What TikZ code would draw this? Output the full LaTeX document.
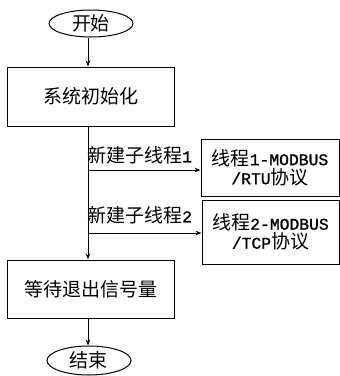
\documentclass[tikz,border=0pt]{standalone}
\usepackage{fontspec}
\setmainfont{Noto Sans CJK SC}
\newfontfamily\lat{Liberation Mono}[Scale=0.86,FakeBold=1.2]
\usetikzlibrary{shapes.geometric,arrows.meta}
\begin{document}
\begin{tikzpicture}[x=1pt,y=-1pt,
  every node/.style={font=\fontsize{19}{21}\selectfont, inner sep=0pt},
  term/.style={draw, ellipse, line width=1pt, minimum width=84pt, minimum height=27pt},
  proc/.style={draw, rectangle, line width=1pt, align=center},
  conn/.style={line width=1pt, -{Stealth[length=6pt,width=4.5pt]}},
  lbl/.style={anchor=west}]
\useasboundingbox (0,0) rectangle (340,376);
\node[term] (start) at (91,23.5) {开始};
\node[proc, minimum width=166pt, minimum height=59pt] (init) at (91,96.5) {系统初始化};
\node[proc, minimum width=138pt, minimum height=57pt, text width=132pt, font=\fontsize{19}{19}\selectfont] (rtu) at (270,167.5) {线程{\lat 1-MODBUS}\\{\lat /RTU}协议};
\node[proc, minimum width=137pt, minimum height=64pt, text width=132pt, font=\fontsize{19}{19}\selectfont] (tcp) at (270.5,232) {线程{\lat 2-MODBUS}\\{\lat /TCP}协议};
\node[proc, minimum width=166pt, minimum height=58pt] (wait) at (91,289) {等待退出信号量};
\node[term, minimum height=29pt] (end) at (89,360.5) {结束};
\coordinate (trunk) at (88,0);
\coordinate (b1) at (88,170);
\coordinate (b2) at (88,233);
\draw[conn] (start.south -| trunk) -- (init.north -| trunk);
\draw[conn] (init.south -| trunk) -- (wait.north -| trunk);
\draw[conn] (b1) -- (b1 -| rtu.west);
\draw[conn] (b2) -- (b2 -| tcp.west);
\draw[conn] (wait.south -| trunk) -- (end.north -| trunk);
\node[lbl] (l1) at (87,155) {新建子线程{\lat 1}};
\node[lbl] (l2) at (87,215) {新建子线程{\lat 2}};
\end{tikzpicture}
\end{document}
